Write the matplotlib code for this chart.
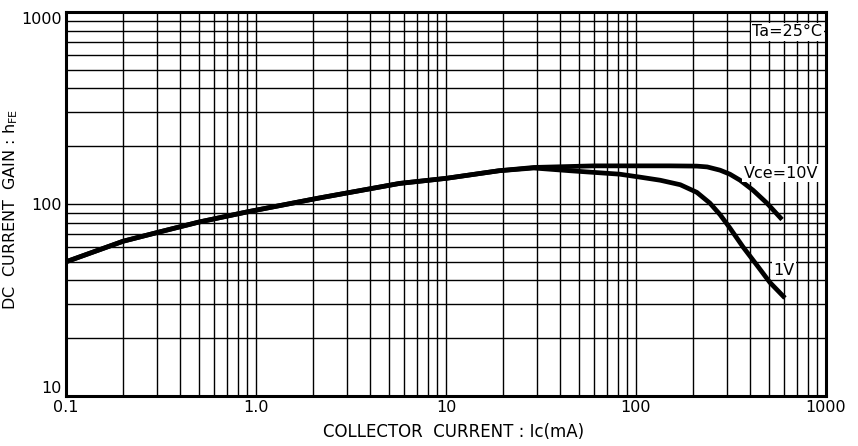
import numpy as np
import matplotlib.pyplot as plt
from matplotlib.ticker import LogLocator, FixedLocator, FixedFormatter, NullFormatter

plt.rcParams['font.family'] = ['DejaVu Sans']

# collector current (mA) and hFE
ic_10v = [0.1, 0.2, 0.31, 0.5, 0.9, 2.1, 5.7, 10, 19, 29, 60, 100, 150, 209, 237, 277, 312, 353, 413, 489, 587]
hfe_10v = [50, 64, 71.5, 80.5, 91, 107, 128, 136, 149, 155, 158, 158, 158, 157.5, 156, 150, 143, 133, 118, 101, 83]

ic_1v = [0.1, 0.2, 0.31, 0.5, 0.9, 2.1, 5.7, 10, 19, 29, 45, 82, 105, 134, 171, 209, 245, 277, 312, 366, 433, 507, 608]
hfe_1v = [50, 64, 71.5, 80.5, 91, 107, 128, 136, 149, 154, 149, 143, 138, 133, 126, 115, 101, 88, 75, 59.7, 48, 39, 32.4]

x_ticks = [0.1, 1, 10, 100, 1000]
x_labels = ["0.1", "1.0", "10", "100", "1000"]
y_ticks = [10, 100, 1000]
y_labels = ["10", "100", "1000"]

fig = plt.figure(figsize=(8.58, 4.46), dpi=100)
ax = fig.add_axes([66/858, 50/446, 760/858, 384/446])

ax.set_xscale("log")
ax.set_yscale("log")
ax.set_xlim(0.1, 1000)
ax.set_ylim(10, 1000)

ax.xaxis.set_major_locator(FixedLocator(x_ticks))
ax.xaxis.set_major_formatter(FixedFormatter(x_labels))
ax.yaxis.set_major_locator(FixedLocator(y_ticks))
ax.yaxis.set_major_formatter(FixedFormatter(y_labels))
ax.xaxis.set_minor_locator(LogLocator(base=10, subs=np.arange(2, 10)))
ax.yaxis.set_minor_locator(LogLocator(base=10, subs=np.arange(2, 10)))
ax.xaxis.set_minor_formatter(NullFormatter())
ax.yaxis.set_minor_formatter(NullFormatter())
ax.tick_params(which="both", length=0, labelsize=11.5, pad=3)

ax.grid(which="both", color="black", lw=1.0)
ax.set_axisbelow(True)
for s in ax.spines.values():
    s.set_linewidth(2.2)
    s.set_zorder(5)

ax.plot(ic_10v, hfe_10v, color="black", lw=3.4, zorder=3,
        solid_capstyle="butt", solid_joinstyle="round")
ax.plot(ic_1v, hfe_1v, color="black", lw=3.4, zorder=3,
        solid_capstyle="butt", solid_joinstyle="round")

box = dict(facecolor="white", edgecolor="none", pad=1.0)
ax.text(955, 787, "Ta=25°C", ha="right", va="center", fontsize=11.5, bbox=box, zorder=4)
ax.text(910, 145, "Vce=10V", ha="right", va="center", fontsize=11.5, bbox=box, zorder=4)
ax.text(601, 45.3, "1V", ha="center", va="center", fontsize=11.5, bbox=box, zorder=4)

ax.set_xlabel("COLLECTOR  CURRENT : Ic(mA)", fontsize=12, labelpad=4)
ax.xaxis.set_label_coords(0.51, -0.07)
ax.set_ylabel(r"DC  CURRENT  GAIN : h$_{\mathregular{FE}}$", fontsize=11.5)
ax.yaxis.set_label_coords(-0.06, 0.485)

fig.canvas.draw()
for lab in ax.get_yticklabels():
    if lab.get_text() == "10":
        lab.set_va("bottom")
    elif lab.get_text() == "1000":
        lab.set_va("top")

fig.savefig("out.png", dpi=100)
plt.close(fig)
